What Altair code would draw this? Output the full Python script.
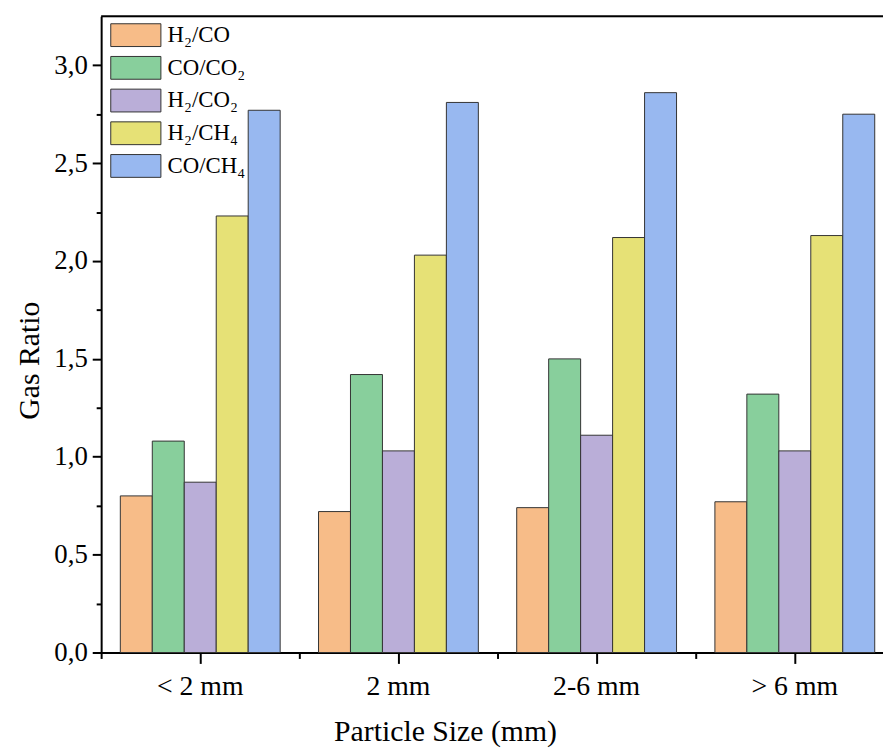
import altair as alt
import pandas as pd

sizes = ["< 2 mm", "2 mm", "2-6 mm", "> 6 mm"]
ratios = ["H₂/CO", "CO/CO₂", "H₂/CO₂", "H₂/CH₄", "CO/CH₄"]
h2_co = [0.80, 0.72, 0.74, 0.77]
co_co2 = [1.08, 1.42, 1.50, 1.32]
h2_co2 = [0.87, 1.03, 1.11, 1.03]
h2_ch4 = [2.23, 2.03, 2.12, 2.13]
co_ch4 = [2.77, 2.81, 2.86, 2.75]
colors = ["#F7BC88", "#88CF9C", "#BAAED8", "#E6E176", "#98B8F0"]

series = [h2_co, co_co2, h2_co2, h2_ch4, co_ch4]
rows = []
for r, vals in zip(ratios, series):
    for s, v in zip(sizes, vals):
        rows.append({"size": s, "ratio": r, "value": v})
df = pd.DataFrame(rows)

FONT = "Liberation Serif"
xscale = alt.Scale(range=[0, 800], paddingInner=0, paddingOuter=0)

bars = alt.Chart(df).mark_bar(stroke="#333333", strokeWidth=1).encode(
    x=alt.X("size:N", sort=sizes, scale=xscale,
            axis=alt.Axis(title="Particle Size (mm)", labelAngle=0, orient="bottom",
                          tickSize=11, tickWidth=2, tickColor="black",
                          domainColor="black", domainWidth=2,
                          labelFont=FONT, labelFontSize=28, labelColor="black",
                          labelPadding=9,
                          titleFont=FONT, titleFontSize=30, titleFontWeight="normal",
                          titleColor="black", titleX=347, titleY=80,
                          titleAnchor="start", titleAlign="center", titleBaseline="middle")),
    xOffset=alt.XOffset("ratio:N", sort=ratios,
                        scale=alt.Scale(paddingInner=0, paddingOuter=0.6)),
    y=alt.Y("value:Q", scale=alt.Scale(domain=[0, 3.25], nice=False, zero=True),
            axis=alt.Axis(title="Gas Ratio",
                          values=[i * 0.25 for i in range(13)],
                          labelExpr="datum.value % 0.5 == 0 ? replace(format(datum.value, '.1f'), '.', ',') : ''",
                          tickSize={"condition": {"test": "datum.value % 0.5 != 0", "value": 5}, "value": 9},
                          tickWidth=2, tickColor="black",
                          domainColor="black", domainWidth=2, grid=False,
                          labelFont=FONT, labelFontSize=27, labelColor="black",
                          labelPadding=5,
                          titleFont=FONT, titleFontSize=30, titleFontWeight="normal",
                          titleColor="black", titleX=-72, titleY=347,
                          titleAngle=-90, titleAlign="center", titleBaseline="middle")),
    color=alt.Color("ratio:N", sort=ratios,
                    scale=alt.Scale(domain=ratios, range=colors),
                    legend=alt.Legend(title=None, orient="none", legendX=23, legendY=7,
                                      symbolType="M-2.2,-1L2.2,-1L2.2,1L-2.2,1Z",
                                      symbolSize=529, symbolStrokeColor="#333333",
                                      symbolStrokeWidth=1, symbolOpacity=1,
                                      rowPadding=5, labelOffset=20,
                                      labelFont=FONT, labelFontSize=23, labelColor="black",
                                      padding=0)),
)

minor = alt.Chart(df).mark_point(opacity=0).encode(
    x=alt.X("size:N", sort=sizes, scale=xscale,
            axis=alt.Axis(orient="bottom", tickBand="extent", labels=False, domain=False,
                          tickSize=6, tickWidth=2, tickColor="black", title=None)),
)

top = alt.Chart(pd.DataFrame({"a": [0]})).mark_rule(color="black", strokeWidth=2).encode(
    x=alt.value(0), x2=alt.value(800), y=alt.value(0)
)

chart = alt.layer(bars, minor, top).resolve_axis(x="independent").properties(
    width=789, height=642,
    autosize=alt.AutoSizeParams(type="none"),
    padding={"left": 94, "top": 5, "right": 0, "bottom": 96},
).configure_view(stroke=None).configure(background="white")

chart.save("out.html", embed_options={"renderer": "svg", "actions": False})
